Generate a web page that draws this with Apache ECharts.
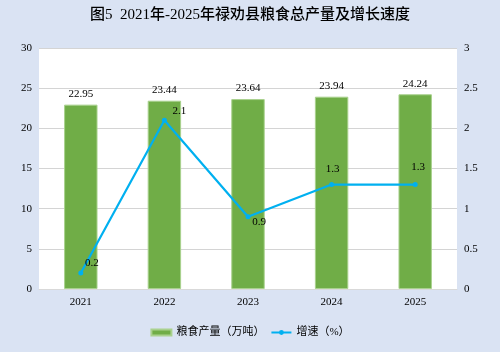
<!DOCTYPE html>
<html><head><meta charset="utf-8">
<script src="https://cdn.jsdelivr.net/npm/echarts@6/dist/echarts.min.js"></script>
<style>html,body{margin:0;padding:0;background:#dae3f3;}#c{width:500px;height:352px;}</style>
</head><body><div id="c"></div>
<script>
const categories = ['2021','2022','2023','2024','2025'];
const output = [22.95, 23.44, 23.64, 23.94, 24.24];
const growth = [0.2, 2.1, 0.9, 1.3, 1.3];
const leftTicks = [0, 5, 10, 15, 20, 25, 30];
const rightTicks = [0, 0.5, 1, 1.5, 2, 2.5, 3];
const labelOffsets = [[11,-10],[15,-9],[11,5],[1,-15],[3,-17]];

const serif = 'Liberation Serif, "Times New Roman", "Noto Sans CJK SC", serif';
const chart = echarts.init(document.getElementById('c'));
chart.setOption({
  backgroundColor: '#dae3f3',
  animation: false,
  title: {
    text: '图5  2021年-2025年禄劝县粮食总产量及增长速度',
    left: 'center', top: 3,
    textStyle: {fontFamily: serif, fontSize: 15, fontWeight: 500, color: '#000'}
  },
  grid: {left: 39, right: 43, top: 48, bottom: 63, show: true, backgroundColor: '#fff', borderWidth: 0},
  legend: {
    bottom: 9, left: 'center', itemGap: 6,
    textStyle: {fontFamily: serif, fontSize: 11, color: '#000'},
    data: [
      {name: '粮食产量（万吨）', icon: 'rect', itemStyle:{color:'#70ad47'}},
      {name: '增速（%）'}
    ],
    itemWidth: 20, itemHeight: 6
  },
  xAxis: {
    type: 'category', data: categories,
    axisLine: {lineStyle: {color: '#d9d9d9'}},
    axisTick: {show: false},
    axisLabel: {fontFamily: serif, fontSize: 11, color: '#000', margin: 8}
  },
  yAxis: [
    {type: 'value', min: leftTicks[0], max: leftTicks[leftTicks.length-1], interval: 5,
     axisLabel: {fontFamily: serif, fontSize: 11, color: '#000', margin: 7},
     splitLine: {lineStyle: {color: '#d4d4d4'}}, axisLine:{show:false}, axisTick:{show:false}},
    {type: 'value', min: rightTicks[0], max: rightTicks[rightTicks.length-1], interval: 0.5,
     axisLabel: {fontFamily: serif, fontSize: 11, color: '#000', margin: 7},
     splitLine: {show: false}, axisLine:{show:false}, axisTick:{show:false}}
  ],
  series: [
    {name: '粮食产量（万吨）', type: 'bar', data: output, barWidth: '40%',
     itemStyle: {color: '#70ad47', borderColor: '#a9d18e', borderWidth: 1},
     label: {show: true, position: 'top', distance: 5, fontFamily: serif, fontSize: 11, color: '#000'}},
    {name: '增速（%）', type: 'line', yAxisIndex: 1,
     data: growth.map((v,i)=>({value:v, label:{offset: labelOffsets[i]}})),
     symbol: 'circle', symbolSize: 5,
     lineStyle: {color: '#00b0f0', width: 2.2}, itemStyle: {color: '#00b0f0'},
     label: {show: true, position: 'inside', fontFamily: serif, fontSize: 11, color: '#000'}}
  ]
});
</script></body></html>
